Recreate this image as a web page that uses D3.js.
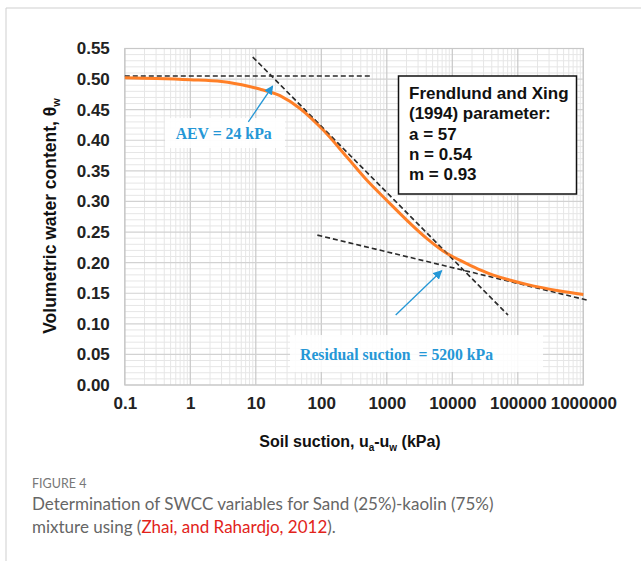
<!DOCTYPE html>
<html><head><meta charset="utf-8">
<script src="https://cdn.jsdelivr.net/npm/d3@7"></script>
<style>
html,body{margin:0;padding:0;background:#fff;}
svg{display:block;}
</style></head>
<body>
<svg id="c" width="641" height="561"></svg>
<script>
// ---- data ----
const xTicks = [0.1, 1, 10, 100, 1000, 10000, 100000, 1000000];
const xTickLabels = ["0.1", "1", "10", "100", "1000", "10000", "100000", "1000000"];
const yTicks = [0, 0.05, 0.10, 0.15, 0.20, 0.25, 0.30, 0.35, 0.40, 0.45, 0.50, 0.55];
const yTickLabels = ["0.00","0.05","0.10","0.15","0.20","0.25","0.30","0.35","0.40","0.45","0.50","0.55"];
const curveSuction = [0.1, 0.3, 1, 3, 8, 12, 16.5, 23.4, 47.3, 107, 244, 493, 995, 2012, 4064, 8200, 16600, 26500, 42300, 136800, 440000, 1000000];
const curveTheta   = [0.502, 0.501, 0.499, 0.496, 0.488, 0.483, 0.479, 0.473, 0.452, 0.4167, 0.373, 0.335, 0.302, 0.2696, 0.2397, 0.2152, 0.1985, 0.1882, 0.1795, 0.1645, 0.1536, 0.148];
const saturationLine = [[0.1, 0.505], [600, 0.505]];
const tangentLine = [[9, 0.536], [70800, 0.1144]];
const residualLine = [[87, 0.245], [1130000, 0.1389]];
const legendLines = ["Frendlund and Xing", "(1994) parameter:", "a = 57", "n = 0.54", "m = 0.93"];
const aevLabel = "AEV = 24 kPa";
const aevArrow = [[7.69, 0.4302], [18.1, 0.4886]];
const aevBox = [[0.411, 0.4363], [27.9, 0.3873]];
const residualLabel = "Residual suction  = 5200 kPa";
const residualArrow = [[1368, 0.1144], [6890, 0.1868]];
const residualBox = [[33.3, 0.0817], [242700, 0.0212]];

// ---- layout ----
const svg = d3.select("#c");
const x = d3.scaleLog().domain([0.1, 1e6]).range([124.8, 583.3]);
const y = d3.scaleLinear().domain([0, 0.55]).range([385, 48.5]);
const blue = "#2597d6";

// outer frame
svg.append("line").attr("x1",6).attr("x2",6).attr("y1",8).attr("y2",561).attr("stroke","#cfcfcf").attr("stroke-width",1);
svg.append("line").attr("x1",6).attr("x2",641).attr("y1",8).attr("y2",8).attr("stroke","#cfcfcf").attr("stroke-width",1);

const g = svg.append("g");
// minor vertical grid
const minorX = [];
for (let e = -1; e < 6; e++) for (let k = 2; k <= 9; k++) minorX.push(k * Math.pow(10, e));
g.selectAll(".mx").data(minorX).join("line")
  .attr("x1", d => x(d)).attr("x2", d => x(d)).attr("y1", y(0.55)).attr("y2", y(0))
  .attr("stroke", "#e6e6e6").attr("stroke-width", 1);
// minor horizontal grid
const minorY = d3.range(1, 55).map(i => i / 100).filter(v => Math.round(v*100) % 5 !== 0);
g.selectAll(".my").data(minorY).join("line")
  .attr("x1", x(0.1)).attr("x2", x(1e6)).attr("y1", d => y(d)).attr("y2", d => y(d))
  .attr("stroke", "#e6e6e6").attr("stroke-width", 1);
// major grid
g.selectAll(".MX").data(xTicks).join("line")
  .attr("x1", d => x(d)).attr("x2", d => x(d)).attr("y1", y(0.55)).attr("y2", y(0))
  .attr("stroke", "#c8c8c8").attr("stroke-width", 1.2);
g.selectAll(".MY").data(yTicks).join("line")
  .attr("x1", x(0.1)).attr("x2", x(1e6)).attr("y1", d => y(d)).attr("y2", d => y(d))
  .attr("stroke", "#d2d2d2").attr("stroke-width", 1.2);
// plot border
g.append("rect").attr("x", x(0.1)).attr("y", y(0.55)).attr("width", x(1e6)-x(0.1)).attr("height", y(0)-y(0.55))
  .attr("fill","none").attr("stroke","#c8c8c8").attr("stroke-width",1.2);

// axes via d3 axis
const xAxis = d3.axisBottom(x).tickValues(xTicks).tickFormat((d,i) => xTickLabels[i]).tickSize(0).tickPadding(12);
const xa = svg.append("g").attr("transform", `translate(0,${y(0)})`).call(xAxis);
xa.select(".domain").remove();
xa.selectAll("text").attr("font-family","Liberation Sans, Arial, sans-serif").attr("font-weight","bold")
  .attr("font-size", 17).attr("fill", "#222");
const yAxis = d3.axisLeft(y).tickValues(yTicks).tickFormat((d,i) => yTickLabels[i]).tickSize(0).tickPadding(15);
const ya = svg.append("g").attr("transform", `translate(${x(0.1)},0)`).call(yAxis);
ya.select(".domain").remove();
ya.selectAll("text").attr("font-family","Liberation Sans, Arial, sans-serif").attr("font-weight","bold")
  .attr("font-size", 17).attr("fill", "#222");

// dashed lines
const ln = d3.line().x(d => x(d[0])).y(d => y(d[1]));
[saturationLine, tangentLine, residualLine].forEach(l => {
  svg.append("path").attr("d", ln(l)).attr("fill","none").attr("stroke","#2a2a2a")
    .attr("stroke-width",1.6).attr("stroke-dasharray","5,3");
});

// orange curve
const curveData = curveSuction.map((s, i) => [s, curveTheta[i]]);
svg.append("path").attr("d", d3.line().x(d => x(d[0])).y(d => y(d[1])).curve(d3.curveCatmullRom.alpha(0.5))(curveData))
  .attr("fill","none").attr("stroke","#ff7f27").attr("stroke-width",3);
// tangent dashes also appear over the curve in the reference
svg.append("path").attr("d", ln(tangentLine)).attr("fill","none").attr("stroke","#333")
  .attr("stroke-width",1.2).attr("stroke-dasharray","5,3").attr("opacity",0.6);

// legend box
const lg = svg.append("g");
lg.append("rect").attr("x",398.5).attr("y",76).attr("width",178).attr("height",118)
  .attr("fill","#fff").attr("stroke","#111").attr("stroke-width",1.5);
lg.selectAll("text").data(legendLines).join("text")
  .attr("x", 409).attr("y", (d,i) => 99 + i*20.3)
  .attr("font-family","Liberation Sans, Arial, sans-serif").attr("font-weight","bold")
  .attr("font-size", 17).attr("fill","#111").text(d => d);

// arrow marker
svg.append("defs").append("marker").attr("id","ah").attr("viewBox","0 0 10 10")
  .attr("refX",9).attr("refY",5).attr("markerWidth",7).attr("markerHeight",7).attr("orient","auto")
  .append("path").attr("d","M0,0 L10,5 L0,10 z").attr("fill", blue);

// AEV annotation
svg.append("rect").attr("x", x(aevBox[0][0])).attr("y", y(aevBox[0][1]))
  .attr("width", x(aevBox[1][0]) - x(aevBox[0][0])).attr("height", y(aevBox[1][1]) - y(aevBox[0][1]))
  .attr("fill","#fff").attr("opacity",0.92);
svg.append("text").attr("x", 175.7).attr("y", (y(aevBox[0][1]) + y(aevBox[1][1]))/2 + 6)
  .attr("textLength", 96).attr("lengthAdjust","spacingAndGlyphs")
  .attr("font-family","Liberation Serif, Times New Roman, serif")
  .attr("font-weight","bold").attr("font-size",17).attr("fill",blue).text(aevLabel);
svg.append("path").attr("d", ln(aevArrow)).attr("stroke", blue).attr("stroke-width",1.3).attr("fill","none").attr("marker-end","url(#ah)");

// Residual annotation
svg.append("rect").attr("x", x(residualBox[0][0])).attr("y", y(residualBox[0][1]))
  .attr("width", x(residualBox[1][0]) - x(residualBox[0][0])).attr("height", y(residualBox[1][1]) - y(residualBox[0][1]))
  .attr("fill","#fff").attr("opacity",0.88);
svg.append("text").attr("x", x(residualBox[0][0]) + 10).attr("y", (y(residualBox[0][1]) + y(residualBox[1][1]))/2 + 6)
  .attr("xml:space","preserve").style("white-space","pre")
  .attr("textLength", 193).attr("lengthAdjust","spacingAndGlyphs")
  .attr("font-family","Liberation Serif, Times New Roman, serif")
  .attr("font-weight","bold").attr("font-size",16).attr("fill",blue).text(residualLabel);
svg.append("path").attr("d", ln(residualArrow)).attr("stroke", blue).attr("stroke-width",1.3).attr("fill","none").attr("marker-end","url(#ah)");

// axis titles
const xt = svg.append("text").attr("x", 350).attr("y", 447).attr("text-anchor","middle")
  .attr("font-family","Liberation Sans, Arial, sans-serif").attr("font-weight","bold").attr("font-size",16).attr("fill","#111");
xt.append("tspan").text("Soil suction, u");
xt.append("tspan").attr("font-size",10).attr("dy",4).text("a");
xt.append("tspan").attr("dy",-4).text("-u");
xt.append("tspan").attr("font-size",10).attr("dy",4).text("w");
xt.append("tspan").attr("dy",-4).text(" (kPa)");

const yt = svg.append("text").attr("transform","translate(56,216) rotate(-90)").attr("text-anchor","middle")
  .attr("font-family","Liberation Sans, Arial, sans-serif").attr("font-weight","bold").attr("font-size",17.5).attr("fill","#111");
yt.append("tspan").text("Volumetric water content, θ");
yt.append("tspan").attr("font-size",11).attr("dy",4).text("w");

// caption
svg.append("text").attr("x",32).attr("y",488).attr("font-family","Lato, Noto Sans, sans-serif")
  .attr("font-size",12.5).attr("fill","#777").text("FIGURE 4");
svg.append("text").attr("x",32).attr("y",510).attr("font-family","Lato, Noto Sans, sans-serif")
  .attr("font-size",17).attr("fill","#666").text("Determination of SWCC variables for Sand (25%)-kaolin (75%)");
const c2 = svg.append("text").attr("x",32).attr("y",533).attr("font-family","Lato, Noto Sans, sans-serif")
  .attr("font-size",17).attr("fill","#666");
c2.append("tspan").text("mixture using (");
c2.append("tspan").attr("fill","#e2231a").text("Zhai, and Rahardjo, 2012");
c2.append("tspan").text(").");
</script>
</body></html>
